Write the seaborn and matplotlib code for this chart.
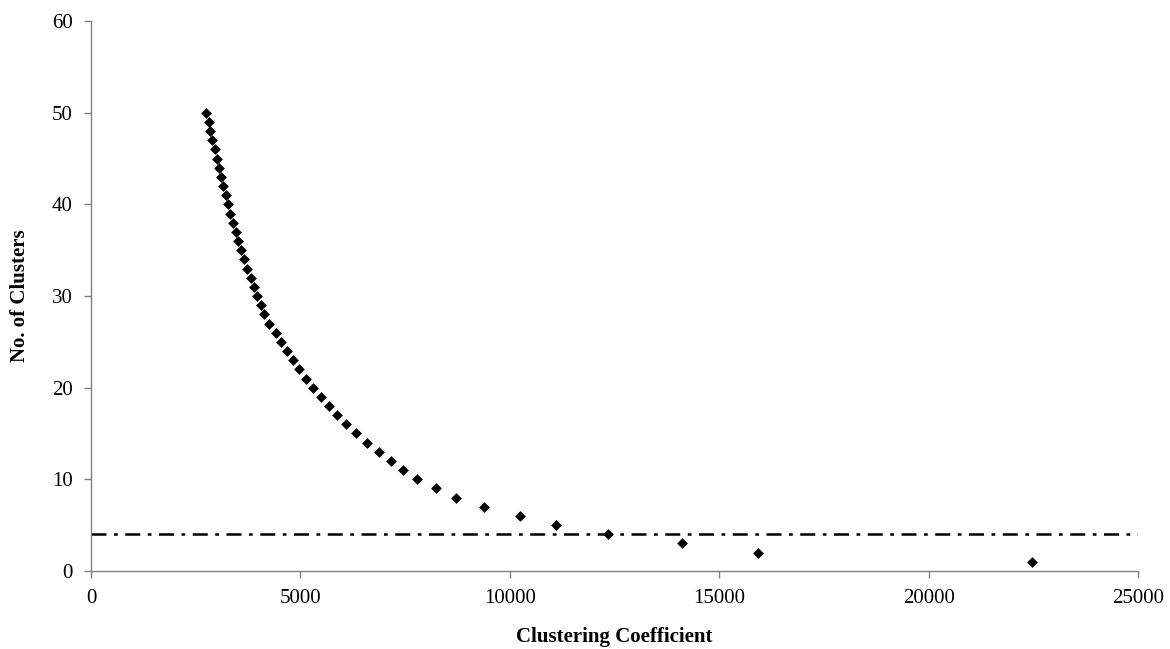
import pandas as pd
import matplotlib
matplotlib.use("Agg")
import matplotlib.pyplot as plt
import seaborn as sns

# values
n_clusters = list(range(50, 0, -1))
coefficient = [
    2755, 2810, 2850, 2889, 2953, 3001, 3056, 3097, 3152, 3216,
    3272, 3328, 3384, 3463, 3519, 3583, 3663, 3735, 3814, 3886,
    3965, 4053, 4141, 4244, 4405, 4545, 4682, 4818, 4969, 5129,
    5304, 5481, 5672, 5870, 6086, 6325, 6580, 6867, 7154, 7441,
    7776, 8230, 8716, 9393, 10246, 11102, 12341, 14113, 15933, 22475,
]
cutoff = 4

df = pd.DataFrame({"coef": coefficient, "clusters": n_clusters})

sns.set_style("white")
plt.rcParams["font.family"] = ["Liberation Serif", "DejaVu Serif"]

fig = plt.figure(figsize=(11.7, 6.49), dpi=100)
ax = fig.add_axes([0.0778, 0.1202, 0.895, 0.8474])

sns.scatterplot(data=df, x="coef", y="clusters", marker="D", s=30,
                color="black", edgecolor="black", linewidth=0, ax=ax, zorder=3)
ax.axhline(cutoff, color="black", lw=1.8, ls=(0, (6, 3, 1.5, 3)), zorder=2)

ax.set_xlim(0, 25000)
ax.set_ylim(0, 60)
ax.set_xticks(range(0, 25001, 5000))
ax.set_yticks(range(0, 61, 10))
ax.tick_params(axis="both", labelsize=15, length=5, width=1, color="#808080",
               labelcolor="black", direction="out", bottom=True, left=True, pad=8)
for side in ["top", "right"]:
    ax.spines[side].set_visible(False)
for side in ["left", "bottom"]:
    ax.spines[side].set_color("#808080")
    ax.spines[side].set_linewidth(1)

ax.set_xlabel("Clustering Coefficient", fontsize=15, fontweight="bold",
              color="black", labelpad=14)
ax.set_ylabel("No. of Clusters", fontsize=15, fontweight="bold",
              color="black", labelpad=16)

plt.savefig("out.png", dpi=100)
